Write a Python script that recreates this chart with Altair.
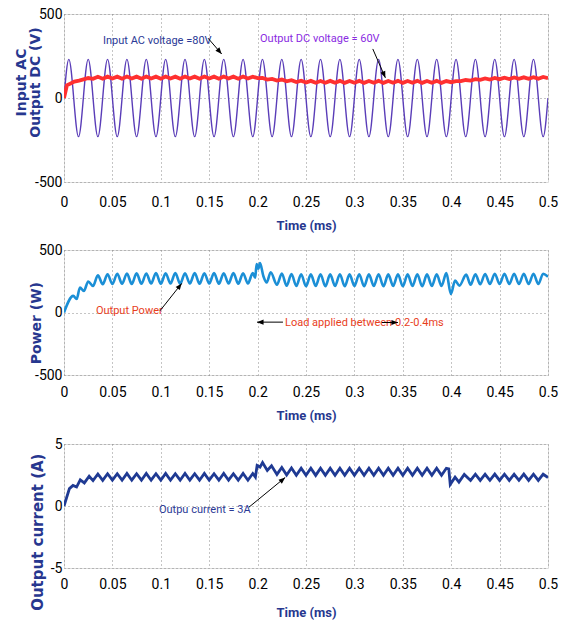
import altair as alt
import pandas as pd

# ---------------- data ----------------
X_TICKS = [0, 0.05, 0.1, 0.15, 0.2, 0.25, 0.3, 0.35, 0.4, 0.45, 0.5]

# Input AC voltage: start, successive crests / troughs, end  (ms, V)
AC_T = [0, 0.005, 0.015, 0.025, 0.035, 0.045, 0.055, 0.065, 0.075, 0.085, 0.095,
        0.105, 0.115, 0.125, 0.135, 0.145, 0.155, 0.165, 0.175, 0.185, 0.195,
        0.205, 0.215, 0.225, 0.235, 0.245, 0.255, 0.265, 0.275, 0.285, 0.295,
        0.305, 0.315, 0.325, 0.335, 0.345, 0.355, 0.365, 0.375, 0.385, 0.395,
        0.405, 0.415, 0.425, 0.435, 0.445, 0.455, 0.465, 0.475, 0.485, 0.495, 0.5]
AC_V = [0, 230, -230, 230, -230, 230, -230, 230, -230, 230, -230,
        230, -230, 230, -230, 230, -230, 230, -230, 230, -230,
        230, -230, 230, -230, 230, -230, 230, -230, 230, -230,
        230, -230, 230, -230, 230, -230, 230, -230, 230, -230,
        230, -230, 230, -230, 230, -230, 230, -230, 230, -230, 0]

# Output DC voltage (ms, V)
DC_T = [0, 0.003, 0.006, 0.0107, 0.0155, 0.022, 0.025,
        0.03, 0.035, 0.04, 0.045, 0.05, 0.055, 0.06, 0.065, 0.07, 0.075,
        0.08, 0.085, 0.09, 0.095, 0.1, 0.105, 0.11, 0.115, 0.12, 0.125,
        0.13, 0.135, 0.14, 0.145, 0.15, 0.155, 0.16, 0.165, 0.17, 0.175,
        0.18, 0.185, 0.19, 0.195, 0.2, 0.205, 0.21, 0.215, 0.22, 0.225,
        0.23, 0.235, 0.24, 0.245, 0.25, 0.255, 0.26, 0.265, 0.27, 0.275,
        0.28, 0.285, 0.29, 0.295, 0.3, 0.305, 0.31, 0.315, 0.32, 0.325,
        0.33, 0.335, 0.34, 0.345, 0.35, 0.355, 0.36, 0.365, 0.37, 0.375,
        0.38, 0.385, 0.39, 0.395, 0.4, 0.405, 0.41, 0.415, 0.42, 0.425,
        0.43, 0.435, 0.44, 0.445, 0.45, 0.455, 0.46, 0.465, 0.47, 0.475,
        0.48, 0.485, 0.49, 0.495, 0.5]
DC_V = [0, 75, 84, 98, 104, 114, 119,
        114, 126, 115, 127, 116, 127, 115, 128, 116, 127,
        115, 128, 116, 127, 115, 128, 116, 127, 115, 128,
        116, 127, 115, 128, 116, 127, 115, 128, 116, 127,
        115, 128, 116, 127, 118, 120, 110, 114, 104, 110,
        99, 106, 95, 103, 92, 102, 91, 101, 91, 102,
        91, 102, 90, 101, 91, 102, 90, 101, 91, 102,
        90, 101, 91, 102, 90, 101, 91, 102, 90, 101,
        91, 102, 90, 101, 94, 100, 100, 107, 104, 112,
        108, 116, 110, 119, 112, 121, 113, 122, 114, 123,
        114, 124, 115, 125, 118]

# Output power (ms, W)
P_T = [0, 0.0096, 0.0131, 0.0165, 0.0205, 0.025,
       0.03, 0.035, 0.04, 0.045, 0.05, 0.055, 0.06, 0.065, 0.07, 0.075,
       0.08, 0.085, 0.09, 0.095, 0.1, 0.105, 0.11, 0.115, 0.12, 0.125,
       0.13, 0.135, 0.14, 0.145, 0.15, 0.155, 0.16, 0.165, 0.17, 0.175,
       0.18, 0.185, 0.19, 0.195,
       0.1975, 0.199, 0.2007, 0.2025, 0.206, 0.2094, 0.2135,
       0.22, 0.225, 0.23, 0.235, 0.24, 0.245, 0.25, 0.255, 0.26, 0.265,
       0.27, 0.275, 0.28, 0.285, 0.29, 0.295, 0.3, 0.305, 0.31, 0.315,
       0.32, 0.325, 0.33, 0.335, 0.34, 0.345, 0.35, 0.355, 0.36, 0.365,
       0.37, 0.375, 0.38, 0.385, 0.39, 0.395,
       0.3997, 0.404, 0.4085, 0.4155,
       0.42, 0.425, 0.43, 0.435, 0.44, 0.445, 0.45, 0.455, 0.46, 0.465,
       0.47, 0.475, 0.48, 0.485, 0.49, 0.495, 0.5]
P_V = [0, 133, 108, 200, 172, 248,
       212, 298, 226, 306, 228, 310, 230, 312, 228, 314,
       230, 312, 232, 316, 230, 314, 232, 316, 230, 314,
       232, 316, 230, 314, 232, 316, 230, 314, 232, 316,
       230, 314, 232, 316,
       278, 388, 350, 395, 290, 240, 322,
       222, 312, 214, 308, 212, 306, 210, 305, 212, 306,
       210, 305, 212, 306, 210, 305, 212, 306, 210, 305,
       212, 306, 210, 305, 212, 306, 210, 305, 212, 306,
       210, 305, 212, 306, 212, 316,
       148, 255, 215, 303,
       222, 306, 226, 308, 228, 310, 228, 310, 228, 310,
       228, 310, 228, 310, 228, 310, 286]

# Output current (ms, A)
I_T = [0, 0.0056, 0.0093, 0.013, 0.0168, 0.021, 0.026,
       0.03, 0.035, 0.04, 0.045, 0.05, 0.055, 0.06, 0.065, 0.07, 0.075,
       0.08, 0.085, 0.09, 0.095, 0.1, 0.105, 0.11, 0.115, 0.12, 0.125,
       0.13, 0.135, 0.14, 0.145, 0.15, 0.155, 0.16, 0.165, 0.17, 0.175,
       0.18, 0.185, 0.19, 0.195,
       0.1977, 0.1995, 0.2025, 0.2051, 0.21, 0.2144,
       0.22, 0.225, 0.23, 0.235, 0.24, 0.245, 0.25, 0.255, 0.26, 0.265,
       0.27, 0.275, 0.28, 0.285, 0.29, 0.295, 0.3, 0.305, 0.31, 0.315,
       0.32, 0.325, 0.33, 0.335, 0.34, 0.345, 0.35, 0.355, 0.36, 0.365,
       0.37, 0.375, 0.38, 0.385, 0.39, 0.395,
       0.3975, 0.399, 0.404, 0.408, 0.4135,
       0.42, 0.425, 0.43, 0.435, 0.44, 0.445, 0.45, 0.455, 0.46, 0.465,
       0.47, 0.475, 0.48, 0.485, 0.49, 0.495, 0.5]
I_V = [0, 1.4, 1.66, 1.53, 2.1, 1.86, 2.4,
       2.05, 2.58, 2.07, 2.6, 2.08, 2.6, 2.08, 2.62, 2.08, 2.6,
       2.08, 2.62, 2.08, 2.6, 2.08, 2.62, 2.08, 2.6, 2.08, 2.62,
       2.08, 2.6, 2.08, 2.62, 2.08, 2.6, 2.08, 2.62, 2.08, 2.6,
       2.08, 2.62, 2.08, 2.62,
       2.33, 3.27, 3.14, 3.5, 2.87, 3.25,
       2.55, 3.1, 2.5, 3.06, 2.48, 3.05, 2.48, 3.05, 2.47, 3.05,
       2.48, 3.05, 2.48, 3.04, 2.47, 3.05, 2.48, 3.05, 2.48, 3.04,
       2.47, 3.05, 2.48, 3.05, 2.48, 3.04, 2.47, 3.05, 2.48, 3.05,
       2.48, 3.04, 2.47, 3.05, 2.48, 3.04,
       3.0, 1.74, 2.33, 1.93, 2.55,
       2.06, 2.56, 2.06, 2.56, 2.07, 2.57, 2.06, 2.56, 2.06, 2.56,
       2.07, 2.57, 2.06, 2.56, 2.06, 2.56, 2.3]

# annotations: label, time (ms), value, colour
P1_TEXT = [("Input AC voltage =80V", 0.0403, 341, "#2b3a96"),
           ("Output DC voltage = 60V", 0.2025, 351, "#8a2be2")]
P1_ARROWS = [(0.1488, 356, 0.1629, 262, 139), (0.319, 292, 0.332, 120, 157)]
P2_TEXT = [("Output Power", 0.033, 12, "#e8401c"),
           ("Load applied between 0.2-0.4ms", 0.2283, -80, "#e8401c")]
P2_ARROWS = [(0.0992, 14, 0.1216, 233, 38), (0.2262, -77, 0.1994, -77, 270),
             (0.3285, -80, 0.345, -80, 90)]
P3_TEXT = [("Outpu current = 3A", 0.0981, -0.3, "#2b3a96")]
P3_ARROWS = [(0.191, -0.1, 0.2285, 2.3, 50)]

# ---------------- styling ----------------
NARROW = "Roboto, Liberation Sans, sans-serif"
WIDE = "DejaVu Sans, Verdana, sans-serif"
NAVY = "#27378f"
ARROW = "M0,0L-0.4,1L0.4,1Z"
W = 484

xscale = alt.Scale(domain=[0, 0.5], nice=False, zero=False)


def x_axis(label_pad, title_pad):
    return alt.Axis(values=X_TICKS, labelExpr="toString(datum.value)",
                    title="Time (ms)", titleFont=NARROW, titleFontSize=13,
                    titleFontWeight="bold", titleColor=NAVY, titlePadding=title_pad,
                    labelFont=NARROW, labelFontSize=14, labelColor="black",
                    labelPadding=label_pad, labelFlush=False, labelOverlap=False,
                    ticks=False, domain=False, grid=True, gridDash=[1, 3],
                    gridColor="#8a8a8a", gridWidth=1)


def y_axis(vals, title, tx, ty, tsize):
    return alt.Axis(values=vals, labelExpr="toString(datum.value)",
                    title=title, titleFont=WIDE, titleFontSize=tsize,
                    titleFontWeight="bold", titleColor=NAVY, titleAngle=270,
                    titleAlign="center", titleBaseline="middle", titleX=tx, titleY=ty,
                    titleLineHeight=14,
                    labelFont=NARROW, labelFontSize=14, labelColor="black",
                    labelPadding=2, labelOverlap=False, labelFlush=False,
                    ticks=False, domain=False, grid=True, gridDash=[1, 3],
                    gridColor="#8a8a8a", gridWidth=1)


def panel(series, texts, arrows, ydom, xa, ya, height):
    yscale = alt.Scale(domain=ydom, nice=False, zero=False)
    X = alt.X("t:Q", scale=xscale, axis=xa)
    Y = alt.Y("v:Q", scale=yscale, axis=ya)
    layers = []
    for (tt, vv, color, width, interp) in series:
        df = pd.DataFrame({"t": tt, "v": vv})
        layers.append(alt.Chart(df).mark_line(color=color, strokeWidth=width,
                                              interpolate=interp, clip=True)
                      .encode(x=X, y=Y))
    tdf = pd.DataFrame(texts, columns=["label", "t", "v", "c"])
    layers.append(alt.Chart(tdf).mark_text(align="left", baseline="middle",
                                           font=NARROW, fontSize=11)
                  .encode(x=X, y=Y, text="label:N", color=alt.Color("c:N", scale=None)))
    adf = pd.DataFrame(arrows, columns=["t", "v", "t2", "v2", "ang"])
    layers.append(alt.Chart(adf).mark_rule(color="black", strokeWidth=1)
                  .encode(x=X, y=Y, x2="t2:Q", y2="v2:Q"))
    hdf = pd.DataFrame({"t": adf["t2"], "v": adf["v2"], "ang": adf["ang"]})
    layers.append(alt.Chart(hdf).mark_point(shape=ARROW, filled=True, size=170,
                                            color="black", opacity=1, strokeWidth=0)
                  .encode(x=X, y=Y, angle=alt.Angle("ang:Q", scale=None)))
    return alt.layer(*layers).properties(width=W, height=height)


p1 = panel([(AC_T, AC_V, "#5a3db8", 1.4, "monotone"),
            (DC_T, DC_V, "#ff3030", 3.8, "linear")],
           P1_TEXT, P1_ARROWS, [-500, 500], x_axis(13, 10),
           y_axis([-500, 0, 500], ["Input AC", "Output DC (V)"], -42.5, 68, 14), 168)
p2 = panel([(P_T, P_V, "#1b8fd6", 2.6, "monotone")],
           P2_TEXT, P2_ARROWS, [-500, 500], x_axis(10, 10),
           y_axis([-500, 0, 500], "Power  (W)", -28, 72.7, 14), 125)
p3 = panel([(I_T, I_V, "#1f3a93", 2.8, "linear")],
           P3_TEXT, P3_ARROWS, [-5, 5], x_axis(9, 15),
           y_axis([-5, 0, 5], "Output current (A)", -26.5, 87.7, 15), 124)

chart = alt.vconcat(alt.vconcat(p1, p2, spacing=9), p3, spacing=13).properties(
    padding={"left": 14, "top": 6, "right": 0, "bottom": 0}
).configure_view(stroke="#333333", strokeWidth=1).configure(background="white")

chart.save("out.html", embed_options={"renderer": "svg", "actions": False})
